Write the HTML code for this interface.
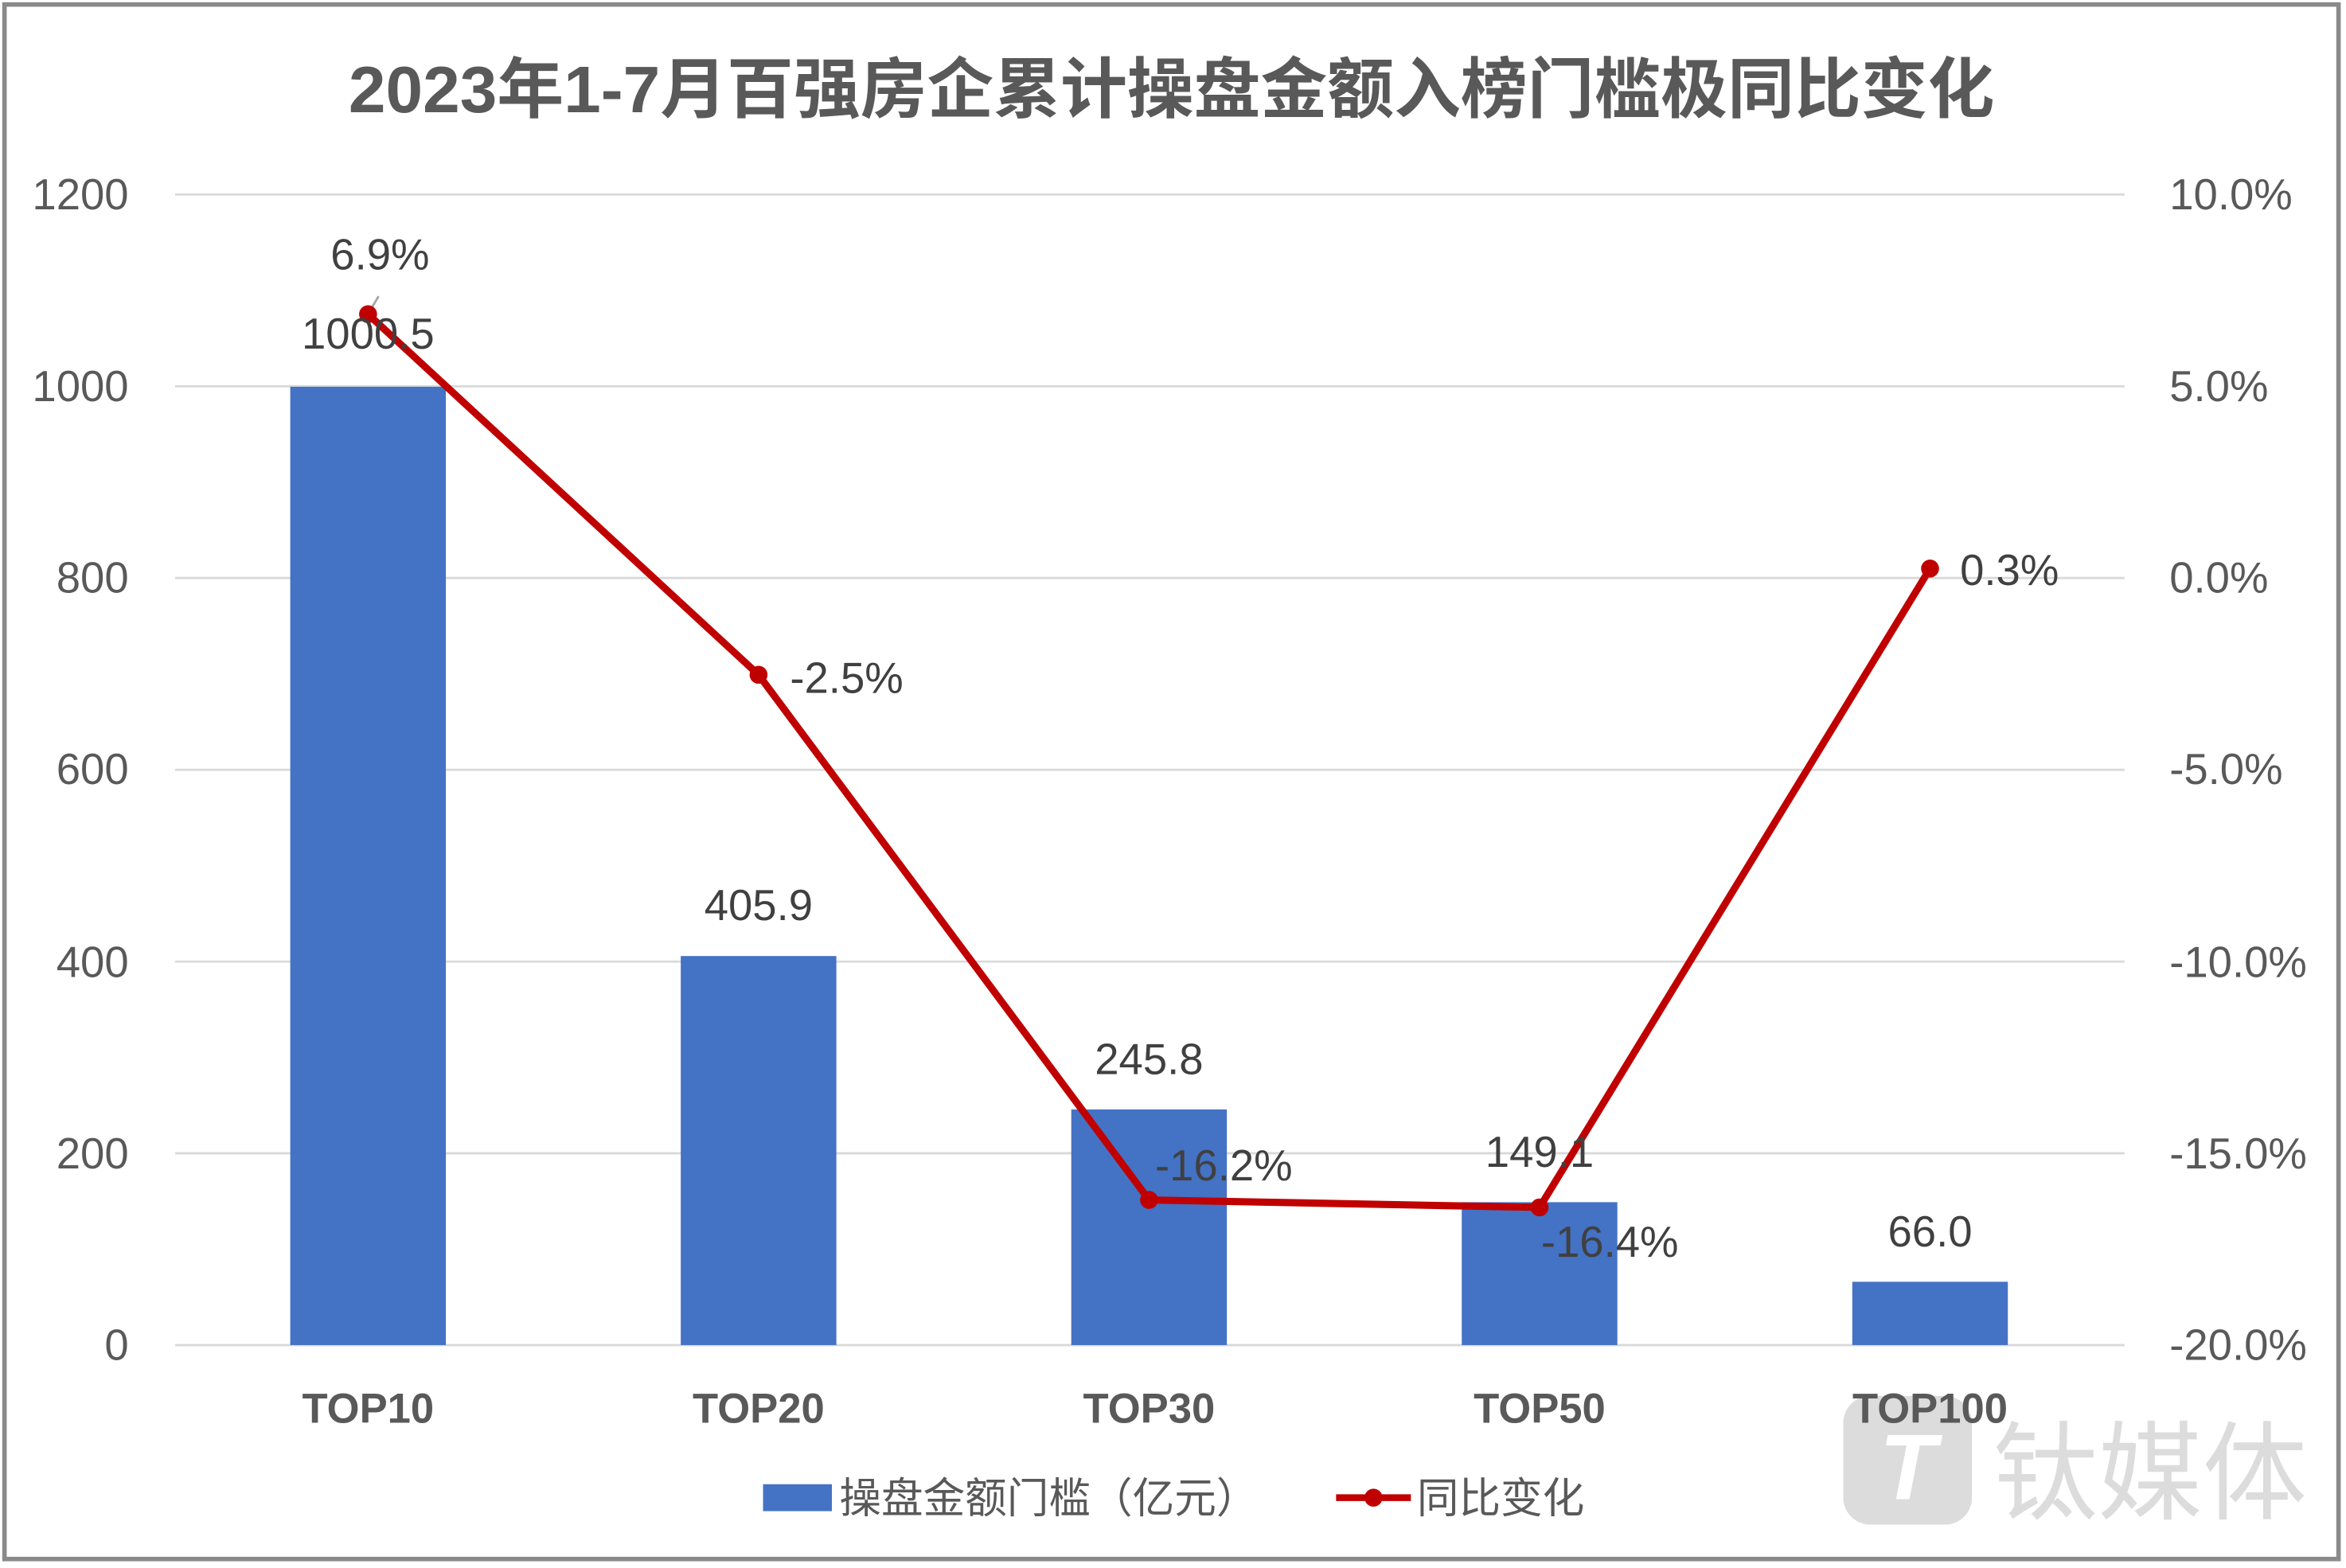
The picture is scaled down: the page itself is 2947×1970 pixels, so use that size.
<!DOCTYPE html>
<html><head><meta charset="utf-8"><style>
html,body{margin:0;padding:0;background:#fff;}
svg{display:block;}
text{font-family:"Liberation Sans","Noto Sans CJK SC",sans-serif;}
</style></head><body>
<svg width="2947" height="1970" viewBox="0 0 1568 1048" preserveAspectRatio="none" xmlns="http://www.w3.org/2000/svg">
<rect x="0" y="0" width="1568" height="1048" fill="#fff"/>
<rect x="3" y="3" width="1560" height="1039" fill="none" stroke="#8a8a8a" stroke-width="3"/>
<rect x="1232" y="933" width="86" height="86" rx="18" fill="#dcdcdc"/>
<text x="1275" y="1002" font-size="62" font-weight="bold" fill="#fff" text-anchor="middle" font-style="italic">T</text>
<text x="1332" y="1010" font-size="72" fill="#dcdcdc" textLength="210" lengthAdjust="spacingAndGlyphs">钛媒体</text>
<text x="783" y="75" font-size="44" font-weight="bold" fill="#595959" text-anchor="middle" textLength="1100" lengthAdjust="spacingAndGlyphs">2023年1-7月百强房企累计操盘金额入榜门槛极同比变化</text>
<g stroke="#d9d9d9" stroke-width="1.5">
<line x1="117" x2="1420" y1="130" y2="130"/>
<line x1="117" x2="1420" y1="258.2" y2="258.2"/>
<line x1="117" x2="1420" y1="386.3" y2="386.3"/>
<line x1="117" x2="1420" y1="514.5" y2="514.5"/>
<line x1="117" x2="1420" y1="642.7" y2="642.7"/>
<line x1="117" x2="1420" y1="770.8" y2="770.8"/>
<line x1="117" x2="1420" y1="899" y2="899"/>
</g>
<g font-size="29" fill="#595959" text-anchor="end">
<text x="86" y="140">1200</text>
<text x="86" y="268">1000</text>
<text x="86" y="396">800</text>
<text x="86" y="524">600</text>
<text x="86" y="653">400</text>
<text x="86" y="781">200</text>
<text x="86" y="909">0</text>
</g>
<g font-size="29" fill="#595959" text-anchor="start">
<text x="1450" y="140">10.0%</text>
<text x="1450" y="268">5.0%</text>
<text x="1450" y="396">0.0%</text>
<text x="1450" y="524">-5.0%</text>
<text x="1450" y="653">-10.0%</text>
<text x="1450" y="781">-15.0%</text>
<text x="1450" y="909">-20.0%</text>
</g>
<g fill="#4472c4">
<rect x="194" y="258.5" width="104" height="640.5"/>
<rect x="455" y="639" width="104" height="260"/>
<rect x="716" y="741.5" width="104" height="157.5"/>
<rect x="977" y="803.5" width="104" height="95.5"/>
<rect x="1238" y="856.7" width="104" height="42.3"/>
</g>
<line x1="246" y1="210" x2="253" y2="198" stroke="#a6a6a6" stroke-width="1.5"/>
<polyline points="246,210 507,451 768,802 1029,807 1290,380" fill="none" stroke="#c00000" stroke-width="4.8" stroke-linejoin="round"/>
<g fill="#c00000">
<circle cx="246" cy="210" r="6"/><circle cx="507" cy="451" r="6"/><circle cx="768" cy="802" r="6"/><circle cx="1029" cy="807" r="6"/><circle cx="1290" cy="380" r="6"/>
</g>
<g font-size="29" fill="#404040">
<text x="254" y="180" text-anchor="middle">6.9%</text>
<text x="246" y="233" text-anchor="middle">1000.5</text>
<text x="528" y="463">-2.5%</text>
<text x="507" y="615" text-anchor="middle">405.9</text>
<text x="768" y="718" text-anchor="middle">245.8</text>
<text x="772" y="789">-16.2%</text>
<text x="1029" y="780" text-anchor="middle">149.1</text>
<text x="1030" y="840">-16.4%</text>
<text x="1290" y="833" text-anchor="middle">66.0</text>
<text x="1310" y="391">0.3%</text>
</g>
<g font-size="28" font-weight="bold" fill="#595959" text-anchor="middle">
<text x="246" y="951">TOP10</text>
<text x="507" y="951">TOP20</text>
<text x="768" y="951">TOP30</text>
<text x="1029" y="951">TOP50</text>
<text x="1290" y="951">TOP100</text>
</g>
<rect x="510" y="992" width="46" height="18" fill="#4472c4"/>
<text x="561" y="1011" font-size="28" fill="#595959">操盘金额门槛（亿元）</text>
<line x1="893" y1="1001" x2="943" y2="1001" stroke="#c00000" stroke-width="4.5"/>
<circle cx="918" cy="1001" r="6" fill="#c00000"/>
<text x="947" y="1011" font-size="28" fill="#595959">同比变化</text>
</svg>
</body></html>
